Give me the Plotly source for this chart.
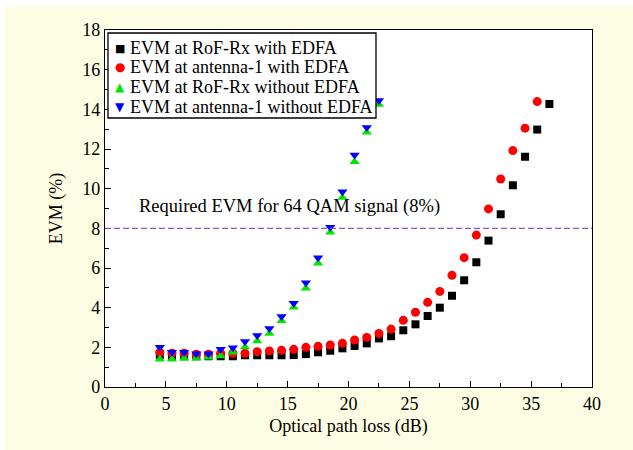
import plotly.graph_objects as go

# ---- data ----
x_with = [4.5 + i for i in range(33)]  # 4.5 .. 36.5
evm_rof_with = [1.6, 1.55, 1.55, 1.55, 1.55, 1.55, 1.55, 1.6, 1.6, 1.6, 1.6,
                1.61, 1.66, 1.75, 1.83, 1.95, 2.07, 2.2, 2.45, 2.56, 2.86, 3.16,
                3.58, 4.0, 4.6, 5.38, 6.29, 7.38, 8.71, 10.17, 11.61, 12.98, 14.27]
x_ant_with = [4.5 + i for i in range(32)]  # 4.5 .. 35.5
evm_ant_with = [1.75, 1.7, 1.7, 1.65, 1.65, 1.7, 1.7, 1.7, 1.78, 1.82, 1.85,
                1.9, 2.0, 2.05, 2.12, 2.2, 2.37, 2.5, 2.7, 2.92, 3.36, 3.77,
                4.27, 4.82, 5.63, 6.52, 7.66, 8.98, 10.49, 11.92, 13.05, 14.39]
x_without = [4.5 + i for i in range(19)]  # 4.5 .. 22.5
evm_rof_without = [1.4, 1.4, 1.45, 1.45, 1.5, 1.56, 1.75, 2.02, 2.32, 2.7,
                   3.34, 4.02, 4.98, 6.24, 7.8, 9.56, 11.36, 12.84, 14.25]
evm_ant_without = [2.0, 1.75, 1.75, 1.68, 1.68, 1.9, 1.98, 2.3, 2.6, 2.95,
                   3.55, 4.22, 5.26, 6.52, 8.05, 9.85, 11.7, 13.08, 14.45]
names = ["EVM at RoF-Rx with EDFA", "EVM at antenna-1 with EDFA",
         "EVM at RoF-Rx without EDFA", "EVM at antenna-1 without EDFA"]
colors = ["#000000", "#ff0000", "#00e600", "#0000ff"]
legend_glyphs = ["■", "●", "▲", "▼"]
legend_glyph_sizes = [11, 12, 12, 12]
threshold = 8
threshold_label = "Required EVM for 64 QAM signal (8%)"

FONT = "Liberation Serif, Times New Roman, serif"
CREAM = "#fdfde3"

# plot area geometry (pixels) used for paper-coordinate conversions
W, H = 633, 450
L, R, T, B = 105, 41, 30, 63
PW, PH = W - L - R, H - T - B


def px(xp):
    return (xp - L) / PW


def py(yp):
    return (H - B - yp) / PH


fig = go.Figure()
fig.add_trace(go.Scatter(x=x_with, y=evm_rof_with, mode="markers", name=names[0],
                         marker=dict(symbol="square", size=8, color=colors[0])))
fig.add_trace(go.Scatter(x=x_ant_with, y=evm_ant_with, mode="markers", name=names[1],
                         marker=dict(symbol="circle", size=9, color=colors[1])))
fig.add_trace(go.Scatter(x=x_without, y=evm_rof_without, mode="markers", name=names[2],
                         marker=dict(symbol="triangle-up", size=9, color=colors[2])))
fig.add_trace(go.Scatter(x=x_without, y=evm_ant_without, mode="markers", name=names[3],
                         marker=dict(symbol="triangle-down", size=9, color=colors[3])))

# threshold line + label
fig.add_shape(type="line", xref="paper", yref="y", x0=0, x1=1, y0=threshold, y1=threshold,
              line=dict(color="#8a55d0", width=1.3, dash="6px,3px"))
fig.add_annotation(x=2.65, y=9.1, xref="x", yref="y", text=threshold_label,
                   showarrow=False, xanchor="left", yanchor="middle",
                   font=dict(family=FONT, size=18.5, color="black"))

# thin white strips at top and left of the cream page
fig.add_shape(type="rect", xref="paper", yref="paper", layer="below",
              x0=px(-5), x1=px(W + 5), y0=py(6), y1=py(-5),
              fillcolor="white", line=dict(width=0))
fig.add_shape(type="rect", xref="paper", yref="paper", layer="below",
              x0=px(-5), x1=px(5), y0=py(H + 5), y1=py(-5),
              fillcolor="white", line=dict(width=0))

# compact legend box (Origin style)
fig.add_shape(type="rect", xref="paper", yref="paper", layer="above",
              x0=px(108), x1=px(376), y0=py(118), y1=py(33),
              fillcolor="white", line=dict(color="black", width=1.3))
row_y = [48, 67.5, 87, 106.5]
for name, col, g, gs, ry in zip(names, colors, legend_glyphs, legend_glyph_sizes, row_y):
    fig.add_annotation(x=px(120), y=py(ry), xref="paper", yref="paper",
                       text=f"<span style='color:{col}'>{g}</span>", showarrow=False,
                       xanchor="center", yanchor="middle",
                       font=dict(family="DejaVu Sans", size=gs, color=col))
    fig.add_annotation(x=px(128), y=py(ry), xref="paper", yref="paper", text=name,
                       showarrow=False, xanchor="left", yanchor="middle",
                       font=dict(family=FONT, size=18, color="black"))

fig.update_layout(
    width=W, height=H,
    margin=dict(l=L, r=R, t=T, b=B),
    paper_bgcolor=CREAM, plot_bgcolor="white",
    font=dict(family=FONT, size=18, color="black"),
    showlegend=False,
    xaxis=dict(range=[0, 40], dtick=5, tick0=0, showgrid=False, zeroline=False,
               showline=True, linecolor="black", linewidth=1.3, mirror=True,
               ticks="inside", ticklen=6, tickcolor="black",
               tickfont=dict(family=FONT, size=18),
               minor=dict(ticks="inside", dtick=2.5, ticklen=4, tickcolor="black"),
               title=dict(text="Optical path loss (dB)", standoff=6,
                          font=dict(family=FONT, size=18))),
    yaxis=dict(range=[0, 18], dtick=2, tick0=0, showgrid=False, zeroline=False,
               showline=True, linecolor="black", linewidth=1.3, mirror=True,
               ticks="inside", ticklen=6, tickcolor="black",
               tickfont=dict(family=FONT, size=18),
               minor=dict(ticks="inside", dtick=1, ticklen=4, tickcolor="black"),
               title=dict(text="EVM (%)", standoff=14,
                          font=dict(family=FONT, size=18))),
)

fig.write_html(
    "out.html", config={"displayModeBar": False},
    post_script=("document.body.style.margin='0';"
                 "document.body.style.background='" + CREAM + "';"
                 "document.documentElement.style.background='" + CREAM + "';"
                 "document.body.style.overflow='hidden';"))
